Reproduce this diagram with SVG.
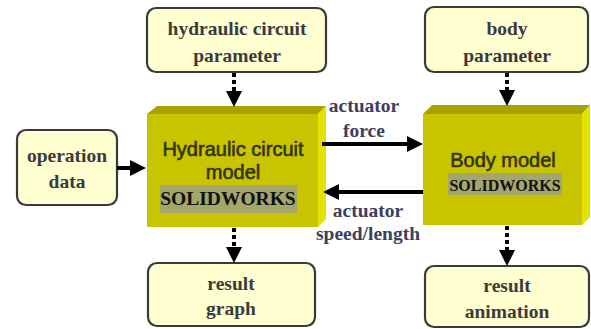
<svg xmlns="http://www.w3.org/2000/svg" width="591" height="329" viewBox="0 0 591 329">
<style>
.box{fill:#ffffd2;stroke:#3a3a3a;stroke-width:2.2}
.bt{font-family:"Liberation Serif","Times New Roman",serif;font-weight:bold;font-size:19.5px;fill:#3b3b3b;text-anchor:middle}
.lbl{font-family:"Liberation Serif","Times New Roman",serif;font-weight:bold;font-size:19.5px;fill:#3e3e5e;text-anchor:middle}
.front{fill:#c8c400}
.top{fill:#a9a300}
.side{fill:#e4e200}
.band{fill:#a4a66c}
.mt{font-family:"Liberation Sans",Arial,sans-serif;font-size:20px;fill:#34340a;stroke:#34340a;stroke-width:0.6;text-anchor:middle}
.sw{font-family:"Liberation Serif","Times New Roman",serif;font-weight:bold;fill:#111;text-anchor:middle}
.solid{stroke:#000;stroke-width:4;fill:none}
.dot{stroke:#000;stroke-width:4;fill:none;stroke-dasharray:4 3}
</style>
<defs>
<marker id="ah" viewBox="0 0 16 16" refX="0" refY="8" markerWidth="16" markerHeight="16" markerUnits="userSpaceOnUse" orient="auto">
<path d="M0,0 L16,8 L0,16 z" fill="#000"/>
</marker>
</defs>

<g id="hyd-param">
<rect class="box" x="147" y="8" width="179" height="64" rx="9"/>
<text class="bt" x="237" y="35">hydraulic circuit</text>
<text class="bt" x="237" y="62">parameter</text>
</g>

<g id="body-param">
<rect class="box" x="425" y="7" width="163" height="65" rx="9"/>
<text class="bt" x="507" y="35">body</text>
<text class="bt" x="507" y="62">parameter</text>
</g>

<g id="operation-data">
<rect class="box" x="17" y="130" width="100" height="75" rx="9"/>
<text class="bt" x="67" y="162">operation</text>
<text class="bt" x="67" y="188">data</text>
</g>

<g id="hyd-model">
<polygon class="top" points="147,114 157,106 326,106 318,114"/>
<polygon class="side" points="318,114 326,106 326,219 318,227"/>
<rect class="front" x="147" y="114" width="171" height="113"/>
<rect class="band" x="160" y="185" width="137" height="28"/>
<text class="mt" x="233" y="156">Hydraulic circuit</text>
<text class="mt" x="233" y="179">model</text>
<text class="sw" x="228" y="205" font-size="19.5">SOLIDWORKS</text>
</g>

<g id="body-model">
<polygon class="top" points="423,114 432,105 590,105 582,114"/>
<polygon class="side" points="582,114 590,105 590,217 582,225"/>
<rect class="front" x="423" y="114" width="159" height="111"/>
<rect class="band" x="448" y="173" width="114" height="22"/>
<text class="mt" x="503" y="167">Body model</text>
<text class="sw" x="505" y="191" font-size="16">SOLIDWORKS</text>
</g>

<g id="result-graph">
<rect class="box" x="148" y="263" width="167" height="63" rx="9"/>
<text class="bt" x="231" y="290">result</text>
<text class="bt" x="231" y="315">graph</text>
</g>

<g id="result-animation">
<rect class="box" x="425" y="266" width="164" height="61" rx="9"/>
<text class="bt" x="507" y="292">result</text>
<text class="bt" x="507" y="318">animation</text>
</g>

<g id="connectors">
<line class="dot" x1="234" y1="73" x2="234" y2="91" marker-end="url(#ah)"/>
<line class="dot" x1="507" y1="73" x2="507" y2="90" marker-end="url(#ah)"/>
<line class="dot" x1="234" y1="228" x2="234" y2="247" marker-end="url(#ah)"/>
<line class="dot" x1="507" y1="226" x2="507" y2="250" marker-end="url(#ah)"/>
<line class="solid" x1="117" y1="168" x2="130" y2="168" marker-end="url(#ah)"/>
<line class="solid" x1="322" y1="144" x2="407" y2="144" marker-end="url(#ah)"/>
<line class="solid" x1="423" y1="192" x2="339" y2="192" marker-end="url(#ah)"/>
<text class="lbl" x="364" y="112">actuator</text>
<text class="lbl" x="364" y="137">force</text>
<text class="lbl" x="368" y="217">actuator</text>
<text class="lbl" x="368" y="240">speed/length</text>
</g>
</svg>
